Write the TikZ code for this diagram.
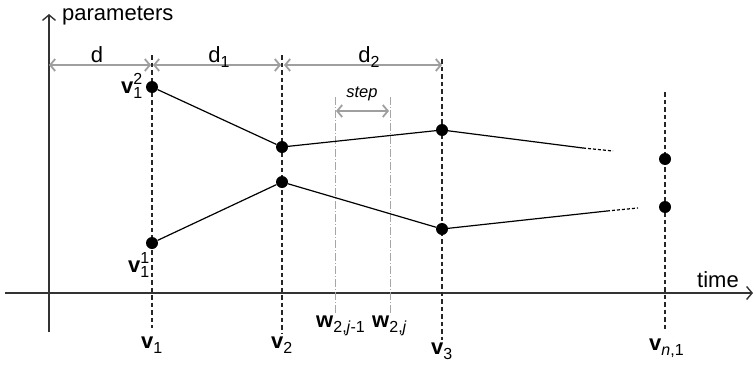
\documentclass[tikz,border=0pt]{standalone}
\usepackage{fontspec}
\setmainfont{Liberation Sans}
\usetikzlibrary{arrows.meta}
\newcommand\lsub[1]{\raisebox{-5.5pt}{\fontsize{16}{16}\selectfont #1}}
\newcommand\lsubsup[2]{{\fontsize{16}{16}\selectfont\rlap{\raisebox{8.5pt}{#2}}\raisebox{-5.5pt}{#1}}}
\begin{document}
\begin{tikzpicture}[x=1pt,y=-1pt,
  dot/.style={circle, fill=black, inner sep=0pt, minimum size=12pt},
  guide/.style={dash pattern=on 4.5pt off 3pt, line width=1.2pt, black!85},
  dimarrow/.style={gray!75, line width=1.8pt, {Straight Barb[length=5pt,width=12pt]}-{Straight Barb[length=5pt,width=12pt]}},
  stepline/.style={black!35, line width=1pt, dash pattern=on 8pt off 2pt on 1pt off 2pt},
  axis/.style={line width=1.4pt, black!80, -{Straight Barb[length=5.5pt,width=13pt]}},
  lab/.style={inner sep=0pt, font=\fontsize{22}{26}\selectfont},
  seg/.style={line width=1.2pt, black}]
\useasboundingbox (0,0) rectangle (754,367);
% axes
\coordinate (xs) at (5,293);
\coordinate (xe) at (753,293);
\coordinate (ys) at (49,332);
\coordinate (ye) at (49,14);
\draw[axis] (xs) -- (xe);
\draw[axis] (ys) -- (ye);
\node[lab, anchor=base west] (par) at (62,20) {parameters};
\node[lab, anchor=base west] (tim) at (697,287) {time};
% vertical guides
\coordinate (g1t) at (152,55); \coordinate (g1b) at (152,328);
\coordinate (g2t) at (282,55); \coordinate (g2b) at (282,333);
\coordinate (g3t) at (442,59); \coordinate (g3b) at (442,340);
\coordinate (gnt) at (665,92); \coordinate (gnb) at (665,330);
\draw[guide] (g1t) -- (g1b);
\draw[guide] (g2t) -- (g2b);
\draw[guide] (g3t) -- (g3b);
\draw[guide] (gnt) -- (gnb);
% step lines
\coordinate (s1t) at (335,97); \coordinate (s1b) at (335,314);
\coordinate (s2t) at (390,97); \coordinate (s2b) at (390,314);
\draw[stepline] (s1t) -- (s1b);
\draw[stepline] (s2t) -- (s2b);
% dimension arrows
\coordinate (d0a) at (49,65); \coordinate (d0b) at (151,65);
\coordinate (d1a) at (153,65); \coordinate (d1b) at (281,65);
\coordinate (d2a) at (284,65); \coordinate (d2b) at (442,65);
\coordinate (sa) at (336,111); \coordinate (sb) at (389,111);
\draw[dimarrow] (d0a) -- (d0b);
\draw[dimarrow] (d1a) -- (d1b);
\draw[dimarrow] (d2a) -- (d2b);
\draw[dimarrow] (sa) -- (sb);
\node[lab, anchor=base] (ld) at (97,62) {d};
\node[lab, anchor=base] (ld1) at (219,62) {d\lsub{1}};
\node[lab, anchor=base] (ld2) at (369,62) {d\lsub{2}};
\node[lab, anchor=base, font=\fontsize{16.5}{19}\selectfont\itshape] (lstep) at (362,97) {step};
% points
\node[dot] (t1) at (152,87) {};
\node[dot] (t2) at (282,147) {};
\node[dot] (t3) at (442,130) {};
\node[dot] (b1) at (152,243) {};
\node[dot] (b2) at (282,182) {};
\node[dot] (b3) at (442,229) {};
\node[dot] (n1) at (665,159) {};
\node[dot] (n2) at (665,207) {};
\coordinate (te) at (583,148); \coordinate (tf) at (613,151);
\coordinate (be) at (607,211); \coordinate (bf) at (638,208);
\draw[seg] (t1) -- (t2) -- (t3) -- (te);
\draw[seg, dash pattern=on 3pt off 2pt] (te) -- (tf);
\draw[seg] (b1) -- (b2) -- (b3) -- (be);
\draw[seg, dash pattern=on 3pt off 2pt] (be) -- (bf);
% point labels
\node[lab, anchor=base west] (lt1) at (121,93) {\textbf{v}\lsubsup{1}{2}};
\node[lab, anchor=base west] (lb1) at (128,272) {\textbf{v}\lsubsup{1}{1}};
% bottom labels
\node[lab, anchor=base west] (lv1) at (141,348) {\textbf{v}\lsub{1}};
\node[lab, anchor=base west] (lv2) at (271,348) {\textbf{v}\lsub{2}};
\node[lab, anchor=base west] (lv3) at (431,354) {\textbf{v}\lsub{3}};
\node[lab, anchor=base west] (lvn) at (649,350) {\textbf{v}\lsub{\textit{n},1}};
\node[lab, anchor=base west] (lw1) at (316,327) {\textbf{w}\lsub{2,\textit{j}-1}};
\node[lab, anchor=base west] (lw2) at (372,327) {\textbf{w}\lsub{2,\textit{j}}};
\end{tikzpicture}
\end{document}
